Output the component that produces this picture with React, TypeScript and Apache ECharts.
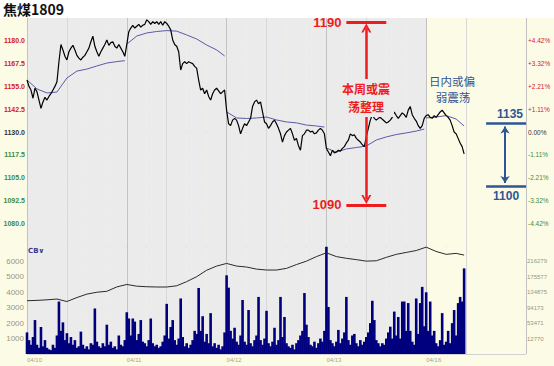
import React, { useEffect, useRef } from 'react';
import * as echarts from 'echarts';

const title = '焦煤1809';
const dayLabels = ['04/10', '04/11', '04/12', '04/13', '04/16'];
const slotsPerDay = 50; // 7.5-minute slots: 20 night + 30 day
const totalSlots = 250;
const prevClose = 1130;

// last price, one value per 7.5-minute slot
const price = [
  1158.5, 1155, 1153, 1148.5, 1154, 1152, 1147.5, 1143, 1146.5, 1149,
  1147.5, 1149.5, 1151, 1153, 1155, 1157.5, 1168.5, 1178, 1175, 1171.5,
  1169.5, 1174, 1176, 1177.5, 1175, 1172, 1170.5, 1169.5, 1171, 1172,
  1174, 1176, 1179.5, 1182.5, 1177, 1174, 1171.5, 1174, 1176, 1178,
  1180.5, 1177.5, 1179, 1179.5, 1177, 1176, 1178, 1176, 1174, 1171.5,
  1178, 1185, 1187, 1188.5, 1187, 1188, 1189, 1187.5, 1188.5, 1189,
  1191.5, 1190.5, 1189, 1190.5, 1189.5, 1190.5, 1189, 1190.5, 1188.5, 1190.5,
  1189.5, 1188, 1186, 1180.5, 1178, 1177, 1174, 1164, 1167.5, 1168.5,
  1167.5, 1168.5, 1168, 1167.5, 1166, 1165, 1158.5, 1153, 1154, 1151,
  1153, 1149.5, 1147.5, 1151, 1153, 1154, 1152.5, 1151, 1152, 1153,
  1142, 1134.5, 1133.5, 1136.5, 1137.5, 1136.5, 1133.5, 1129, 1132, 1134.5,
  1133.5, 1135.5, 1137.5, 1144, 1146.5, 1147.5, 1145.5, 1146.5, 1141, 1135.5,
  1134.5, 1132, 1133.5, 1135.5, 1136.5, 1134.5, 1132, 1129, 1124.5, 1128,
  1130, 1131, 1132, 1129, 1125.5, 1126.5, 1122.5, 1120, 1128, 1129,
  1131, 1131, 1130, 1130.5, 1129, 1129.5, 1131, 1132, 1131, 1129,
  1121, 1119, 1117, 1120, 1118.5, 1119, 1120, 1119.5, 1121, 1122,
  1124, 1125.5, 1129, 1128, 1128.5, 1126.5, 1125.5, 1124.5, 1123, 1122,
  1127.5, 1132, 1136.5, 1139.5, 1137.5, 1136.5, 1137.5, 1138, 1137, 1136,
  1135, 1135.5, 1136.5, 1138, 1141, 1139, 1137.5, 1139, 1140.5, 1139.5,
  1138, 1142, 1144, 1139.5, 1137.5, 1136, 1133.5, 1132, 1133.5, 1137.5,
  1139, 1139.5, 1138, 1137.5, 1139, 1138, 1139.5, 1141, 1142, 1140.5,
  1139, 1138, 1136.5, 1133.5, 1130, 1129, 1126.5, 1124, 1122, 1118,
];

// intraday average price, per day, at slot offsets
const maOffsets = [0, 5, 10, 15, 20, 25, 30, 35, 40, 45, 49];
const maOffsetsLast = [0, 5, 10, 15, 19];
const maDay1 = [1158.5, 1153.6, 1151.4, 1151.9, 1159.6, 1163.4, 1164.5, 1166.2, 1167.8, 1168.6, 1169.1];
const maDay2 = [1178.2, 1182.6, 1184.3, 1185.1, 1185.6, 1185.3, 1183.2, 1181, 1177.7, 1175, 1171.7];
const maDay3 = [1141, 1137.7, 1137.4, 1137.7, 1138.2, 1136.6, 1135.5, 1135, 1133.8, 1133.3, 1132.7];
const maDay4 = [1121.2, 1119, 1120.7, 1121.5, 1122.3, 1125.6, 1127.3, 1128.6, 1129.5, 1130.5, 1131.6];
const maDay5 = [1137.7, 1138.2, 1139, 1137.1, 1133.3];

// volume per slot
const volume = [
  1400, 900, 600, 1100, 2200, 600, 400, 1750, 500, 900,
  400, 300, 250, 600, 400, 1200, 3400, 1500, 2050, 900,
  1350, 700, 1100, 600, 900, 400, 500, 1450, 600, 350,
  500, 300, 700, 600, 2950, 800, 500, 400, 700, 500,
  1900, 600, 800, 400, 500, 300, 1200, 600, 500, 900,
  2700, 2300, 1200, 2300, 2100, 900, 1300, 2200, 800, 700,
  500, 900, 2300, 700, 500, 600, 400, 500, 800, 1200,
  3250, 1000, 1750, 2200, 900, 600, 1000, 3600, 1100, 500,
  700, 400, 600, 900, 1500, 1300, 4280, 1500, 2450, 800,
  1300, 700, 2650, 500, 700, 400, 600, 300, 500, 1400,
  5100, 4300, 1500, 1000, 1700, 800, 600, 1200, 3500, 800,
  600, 2850, 700, 500, 900, 1200, 3700, 900, 600, 1000,
  2800, 700, 500, 800, 1700, 600, 900, 3700, 1100, 2400,
  700, 500, 400, 600, 300, 700, 900, 1200, 1500, 3950,
  1900, 1100, 600, 500, 800, 400, 700, 1000, 800, 1500,
  6950, 3050, 900, 700, 500, 800, 1560, 700, 1000, 1400,
  3700, 900, 600, 1200, 1300, 700, 500, 900, 600, 800,
  1100, 1400, 2000, 3450, 2200, 900, 700, 500, 700, 600,
  1000, 1400, 1770, 1000, 2750, 1200, 2400, 1000, 3400, 3400,
  1500, 3300, 1500, 800, 600, 3600, 1300, 3300, 4350, 1800,
  4000, 1500, 3400, 1200, 1500, 700, 500, 900, 2650, 600,
  800, 1500, 700, 2000, 2850, 1200, 3300, 3700, 3400, 5550,
];

// open interest every 5 slots
const openInterest = [
  112670, 113500, 115000, 117000, 110500, 121000, 130000, 135000, 137500, 149000,
  155500, 151000, 149500, 148800, 148800, 152000, 163000, 176000, 193000, 204000,
  211000, 204000, 201500, 196000, 193600, 193600, 198000, 208000, 217000, 229000,
  239000, 229000, 224500, 221000, 217000, 218000, 227000, 235000, 240000, 245000,
  254000, 242500, 235000, 237500, 233000,
];
const oiTickLabels = ['12770', '53471', '94173', '134875', '175577', '216279'];
const oiMin = -27932;
const oiMax = 256982;

const weekRange = [1190, 1090];
const dayRange = [1135, 1100];
const weekText = ['本周或震', '荡整理'];
const dayText = ['日内或偏', '弱震荡'];

const RED = '#ee1c1c';
const BLUE = '#2f5597';
const GRAY_BG = '#ebebeb';
const CREAM = '#fcfce6';
const arrowPath = 'path://M0,10L5,0L10,10L8,10L5,4L2,10Z';

function buildOption() {
  const lineColors = ['#c2c2c2', 'rgba(0,0,0,0)', '#d8d8d8', 'rgba(0,0,0,0)', 'rgba(0,0,0,0)'];
  const areaColors: string[] = [];
  for (let i = 0; i < totalSlots / 10; i++) areaColors.push(i < 20 ? GRAY_BG : CREAM);

  const xAxisBase = (gridIndex: number, showLabel: boolean) => ({
    type: 'value',
    gridIndex,
    min: 0,
    max: totalSlots,
    interval: 10,
    axisLine: { show: false },
    axisTick: { show: false },
    axisLabel: showLabel
      ? {
          show: true,
          margin: 3,
          fontSize: 6,
          color: '#a8a290',
          align: 'left',
          formatter: (v: number) => {
            const d = v / slotsPerDay;
            return Number.isInteger(d) && d < dayLabels.length ? dayLabels[d] : '';
          },
        }
      : { show: false },
    splitLine: { show: true, showMinLine: true, showMaxLine: true, lineStyle: { color: lineColors, width: 1 } },
    splitArea: { show: true, areaStyle: { color: areaColors } },
  });

  const priceColor = (v: any) => {
    const n = Number(v);
    return n > prevClose ? '#d42020' : n < prevClose ? '#3d8a3d' : '#333';
  };
  const priceSplitColors: string[] = [];
  for (let i = 0; i <= 10; i++) priceSplitColors.push(i === 0 ? '#7a7a7a' : i === 5 ? '#a6a6a6' : '#d0d0d0');
  const volSplitColors: string[] = [];
  for (let i = 0; i <= 7; i++) volSplitColors.push(i === 7 ? '#7a7a7a' : '#d2d2d2');

  const maSeries = [maDay1, maDay2, maDay3, maDay4, maDay5].map((arr, d) => {
    const offs = d === 4 ? maOffsetsLast : maOffsets;
    return {
      type: 'line',
      xAxisIndex: 0,
      yAxisIndex: 0,
      data: arr.map((v, k) => [d * slotsPerDay + offs[k], v]),
      showSymbol: false,
      symbol: 'none',
      lineStyle: { color: '#5a5aaa', width: 1 },
      itemStyle: { color: '#5a5aaa' },
      z: 3,
      silent: true,
    };
  });

  const hLine = (v: number, x0: number, x1: number, color: string, width: number, label: any) => [
    { coord: [x0, v], lineStyle: { color, width, type: 'solid' }, label },
    { coord: [x1, v] },
  ];
  const vArrow = (x: number, v0: number, v1: number, color: string, width: number, sym: string, size: number[]) => [
    { coord: [x, v0], symbol: sym, symbolSize: size, lineStyle: { color, width, type: 'solid' }, label: { show: false } },
    { coord: [x, v1], symbol: sym, symbolSize: size },
  ];
  const redLabel = (v: number) => ({
    show: true, position: 'start', distance: 5, formatter: String(v),
    color: RED, fontSize: 13, fontWeight: 'bold', fontFamily: 'Liberation Sans',
  });
  const blueLabel = (v: number, pos: string) => ({
    show: true, position: pos, distance: 3, formatter: String(v),
    color: BLUE, fontSize: 12, fontWeight: 'bold', fontFamily: 'Liberation Sans',
  });

  const markData = [
    hLine(weekRange[0], 160, 180, RED, 3, redLabel(weekRange[0])),
    hLine(weekRange[1], 160, 180, RED, 3, redLabel(weekRange[1])),
    vArrow(170, weekRange[0] - 3, weekRange[1] + 3, RED, 2.5, arrowPath, [10, 9]),
    hLine(dayRange[0], 230, 250, BLUE, 2.5, blueLabel(dayRange[0], 'insideEndTop')),
    hLine(dayRange[1], 230, 250, BLUE, 2.5, blueLabel(dayRange[1], 'insideMiddleBottom')),
    vArrow(239.5, dayRange[0] - 2, dayRange[1] + 2, BLUE, 2, 'arrow', [7, 7]),
  ];

  const noteText = (text: string, x: number, y: number, style: any) => ({
    type: 'text', x, y, z: 50, silent: true,
    style: { text, align: 'center', verticalAlign: 'middle', fontFamily: 'Noto Sans CJK SC', lineHeight: style.fontSize, ...style },
  });

  return {
    animation: false,
    backgroundColor: CREAM,
    textStyle: { fontFamily: 'Liberation Sans' },
    grid: [
      { left: 27, right: 28, top: 18, height: 228, show: false },
      { left: 27, right: 28, top: 246, height: 108, show: false },
    ],
    xAxis: [xAxisBase(0, false), xAxisBase(1, true)],
    yAxis: [
      {
        type: 'value', gridIndex: 0, position: 'left', min: 1067.5, max: 1192.5, interval: 12.5,
        axisLine: { show: false }, axisTick: { show: false },
        axisLabel: {
          showMinLabel: false, showMaxLabel: false, margin: 2, fontSize: 7, fontWeight: 'bold',
          formatter: (v: number) => v.toFixed(1), color: priceColor,
        },
        splitLine: { show: true, showMinLine: true, showMaxLine: true, lineStyle: { color: priceSplitColors, width: 1 } },
      },
      {
        type: 'value', gridIndex: 0, position: 'right', min: 1067.5, max: 1192.5, interval: 12.5,
        axisLine: { show: false }, axisTick: { show: false },
        axisLabel: {
          showMinLabel: false, showMaxLabel: false, margin: 2, fontSize: 6.5,
          formatter: (v: number) => {
            const p = ((v - prevClose) / prevClose) * 100;
            return (p > 0.001 ? '+' : '') + p.toFixed(2) + '%';
          },
          color: priceColor,
        },
        splitLine: { show: false },
      },
      {
        type: 'value', gridIndex: 1, position: 'left', min: 0, max: 7000, interval: 1000,
        axisLine: { show: false }, axisTick: { show: false },
        axisLabel: {
          showMinLabel: false, showMaxLabel: false, margin: 3, fontSize: 8, color: '#9a9585',
          formatter: (v: number) => String(v),
        },
        splitLine: { show: true, showMinLine: true, showMaxLine: true, lineStyle: { color: volSplitColors, width: 1 } },
      },
      {
        type: 'value', gridIndex: 1, position: 'right', min: 0, max: 7000, interval: 1000,
        axisLine: { show: false }, axisTick: { show: false },
        axisLabel: {
          showMinLabel: false, showMaxLabel: false, margin: 1, fontSize: 6, color: '#9a9585',
          formatter: (v: number) => oiTickLabels[v / 1000 - 1] ?? '',
        },
        splitLine: { show: false },
      },
      { type: 'value', gridIndex: 1, min: oiMin, max: oiMax, show: false, splitLine: { show: false } },
    ],
    series: [
      {
        type: 'bar',
        xAxisIndex: 1,
        yAxisIndex: 2,
        data: volume.map((v, i) => [i, v]),
        barWidth: 2.6,
        itemStyle: { color: '#00007f' },
        z: 2,
        silent: true,
      },
      {
        type: 'line',
        xAxisIndex: 1,
        yAxisIndex: 4,
        data: openInterest.map((v, i) => [Math.min(i * 5, price.length - 1), v]),
        showSymbol: false,
        symbol: 'none',
        lineStyle: { color: '#2a2a2a', width: 1 },
        itemStyle: { color: '#2a2a2a' },
        z: 3,
        silent: true,
      },
      ...maSeries,
      {
        type: 'line',
        xAxisIndex: 0,
        yAxisIndex: 0,
        data: price.map((v, i) => [i, v]),
        showSymbol: false,
        symbol: 'none',
        lineStyle: { color: '#000', width: 1.2 },
        itemStyle: { color: '#000' },
        z: 4,
        silent: true,
        markLine: {
          silent: true,
          symbol: 'none',
          lineStyle: { type: 'solid' },
          label: { show: false },
          data: markData,
        },
      },
    ],
    graphic: [
      { type: 'rect', shape: { x: 0, y: 0, width: 554, height: 18 }, style: { fill: '#ffffff' }, silent: true, z: 0 },
      {
        type: 'text', x: 3, y: 2, z: 50, silent: true,
        style: { text: title, fontSize: 14, fontWeight: 'bold', fontFamily: 'Noto Sans CJK SC', fill: '#111', align: 'left', verticalAlign: 'top' },
      },
      { type: 'rect', shape: { x: 338, y: 79, width: 56, height: 38 }, style: { fill: GRAY_BG }, silent: true, z: 40 },
      noteText(weekText[0], 366, 88.5, { fontSize: 12, fontWeight: 'bold', fill: RED }),
      noteText(weekText[1], 366, 106.5, { fontSize: 12, fontWeight: 'bold', fill: RED }),
      noteText(dayText[0], 452, 80.5, { fontSize: 11.5, fill: BLUE }),
      noteText(dayText[1], 453, 96.5, { fontSize: 11.5, fill: BLUE }),
      {
        type: 'text', x: 28, y: 247, z: 50, silent: true,
        style: { text: 'CB∨', fontSize: 7, fontWeight: 'bold', fontFamily: 'DejaVu Sans', fill: '#3a3a8a', align: 'left', verticalAlign: 'top' },
      },
    ],
  };
}

export default function App() {
  const ref = useRef<HTMLDivElement>(null);
  useEffect(() => {
    if (!ref.current) return;
    const chart = echarts.init(ref.current, undefined, { renderer: 'svg' });
    chart.setOption(buildOption() as any);
    return () => chart.dispose();
  }, []);
  return <div ref={ref} style={{ position: 'absolute', left: 0, top: 0, width: 554, height: 366 }} />;
}
